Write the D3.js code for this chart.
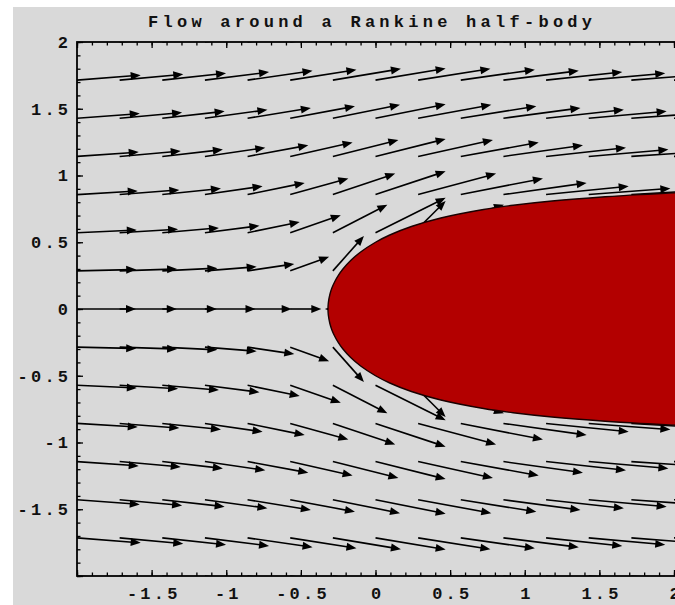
<!DOCTYPE html>
<html>
<head>
<meta charset="utf-8">
<script src="https://cdn.jsdelivr.net/npm/d3@7"></script>
<style>
  body { margin: 0; background: #ffffff; }
  text { font-family: "Liberation Mono", "DejaVu Sans Mono", monospace; font-weight: bold; fill: #111; }
</style>
</head>
<body>
<div id="chart"></div>
<script>
width = 675
height = 605

const title = "Flow around a Rankine half-body";
const xTicks = [-1.5, -1, -0.5, 0, 0.5, 1, 1.5, 2];
const yTicks = [-1.5, -1, -0.5, 0, 0.5, 1, 1.5, 2];

// 15 x 15 grid of velocity arrows; the rows below y = 0 are the mirror of these
const xGrid = [-2, -1.7143, -1.4286, -1.1429, -0.8571, -0.5714, -0.2857, 0,
               0.2857, 0.5714, 0.8571, 1.1429, 1.4286, 1.7143, 2];
const yGrid = [0, 0.2857, 0.5714, 0.8571, 1.1429, 1.4286, 1.7143, 2];

// horizontal velocity, one row per yGrid value (null = source point)
const uRows = [
  [0.841, 0.814, 0.777, 0.721, 0.629, 0.443, -0.114, null, 2.114, 1.557, 1.371, 1.279, 1.223, 1.186, 1.159],
  [0.844, 0.819, 0.786, 0.738, 0.666, 0.554, 0.443, 1.000, 1.557, 1.446, 1.334, 1.262, 1.214, 1.181, 1.156],
  [0.853, 0.833, 0.808, 0.777, 0.743, 0.721, 0.777, 1.000, 1.223, 1.279, 1.257, 1.223, 1.192, 1.167, 1.147],
  [0.866, 0.851, 0.836, 0.822, 0.814, 0.829, 0.889, 1.000, 1.111, 1.171, 1.186, 1.178, 1.164, 1.149, 1.134],
  [0.880, 0.871, 0.864, 0.861, 0.866, 0.889, 0.934, 1.000, 1.066, 1.111, 1.134, 1.139, 1.136, 1.129, 1.120],
  [0.895, 0.890, 0.889, 0.891, 0.902, 0.923, 0.957, 1.000, 1.043, 1.077, 1.098, 1.109, 1.111, 1.110, 1.105],
  [0.908, 0.907, 0.909, 0.914, 0.926, 0.944, 0.970, 1.000, 1.030, 1.056, 1.074, 1.086, 1.091, 1.093, 1.092],
  [0.920, 0.921, 0.925, 0.931, 0.942, 0.958, 0.978, 1.000, 1.022, 1.042, 1.058, 1.069, 1.075, 1.079, 1.080]
];
// vertical velocity, same layout
const vRows = [
  [0, 0, 0, 0, 0, 0, 0, null, 0, 0, 0, 0, 0, 0, 0],
  [0.022, 0.030, 0.043, 0.066, 0.111, 0.223, 0.557, 1.114, 0.557, 0.223, 0.111, 0.066, 0.043, 0.030, 0.022],
  [0.042, 0.056, 0.077, 0.111, 0.171, 0.279, 0.446, 0.557, 0.446, 0.279, 0.171, 0.111, 0.077, 0.056, 0.042],
  [0.058, 0.074, 0.098, 0.134, 0.186, 0.257, 0.334, 0.371, 0.334, 0.257, 0.186, 0.134, 0.098, 0.074, 0.058],
  [0.069, 0.086, 0.109, 0.139, 0.178, 0.223, 0.262, 0.279, 0.262, 0.223, 0.178, 0.139, 0.109, 0.086, 0.069],
  [0.075, 0.091, 0.111, 0.136, 0.164, 0.192, 0.214, 0.223, 0.214, 0.192, 0.164, 0.136, 0.111, 0.091, 0.075],
  [0.079, 0.093, 0.110, 0.129, 0.149, 0.167, 0.181, 0.186, 0.181, 0.167, 0.149, 0.129, 0.110, 0.093, 0.079],
  [0.080, 0.092, 0.105, 0.120, 0.134, 0.147, 0.156, 0.159, 0.156, 0.147, 0.134, 0.120, 0.105, 0.092, 0.080]
];

// upper outline of the half-body, from the nose downstream
const bodyX = [-0.3183, -0.3162, -0.3058, -0.2923, -0.2733, -0.2489, -0.2182, -0.1663, -0.0996, 0,
               0.0956, 0.2403, 0.4377, 0.7239, 0.9227, 1.1826, 1.5392, 1.7735, 2.0006, 2.2010];
const bodyY = [0, 0.0451, 0.1087, 0.1565, 0.2042, 0.2520, 0.2997, 0.3634, 0.4270, 0.5,
               0.5544, 0.6180, 0.6817, 0.7454, 0.7772, 0.8090, 0.8408, 0.8568, 0.8695, 0.8790];

const arrowScale = 0.47;   // data units per unit of speed

const svg = d3.select("#chart")
    .append("svg")
    .attr("width", width)
    .attr("height", height);

// gray page
svg.append("rect")
    .attr("x", 13).attr("y", 7)
    .attr("width", width - 13).attr("height", height - 7)
    .attr("fill", "#d9d9d9");

var x = d3.scaleLinear().domain([-2, 2]).range([77, 674]);
var y = d3.scaleLinear().domain([-2, 2]).range([576, 42]);

svg.append("clipPath").attr("id", "plot-clip")
    .append("rect")
    .attr("x", x(-2)).attr("y", y(2))
    .attr("width", 700).attr("height", y(-2) - y(2));

const plot = svg.append("g").attr("clip-path", "url(#plot-clip)");

// build arrow list (mirror upper rows to the lower half)
var arrows = [];
yGrid.forEach((yy, j) => {
    const signs = j === 0 ? [1] : [1, -1];
    signs.forEach(sg => {
        xGrid.forEach((xx, i) => {
            if (uRows[j][i] === null) return;
            arrows.push({ x: xx, y: sg * yy, u: uRows[j][i], v: sg * vRows[j][i] });
        });
    });
});

const headLen = 10, headHalf = 4;
arrows.forEach(a => {
    const x0 = x(a.x), y0 = y(a.y);
    const x1 = x(a.x + arrowScale * a.u), y1 = y(a.y + arrowScale * a.v);
    const ang = Math.atan2(y1 - y0, x1 - x0);
    const c = Math.cos(ang), s = Math.sin(ang);
    plot.append("line")
        .attr("x1", x0).attr("y1", y0)
        .attr("x2", x1 - c * headLen * 0.5).attr("y2", y1 - s * headLen * 0.5)
        .attr("stroke", "#000")
        .attr("stroke-width", 1.6);
    const bx = x1 - c * headLen, by = y1 - s * headLen;
    plot.append("path")
        .attr("d", "M" + x1 + "," + y1 +
            "L" + (bx - s * headHalf) + "," + (by + c * headHalf) +
            "L" + (bx + s * headHalf) + "," + (by - c * headHalf) + "Z")
        .attr("fill", "#000");
});

// the half-body: upper outline back to the nose, then the mirrored lower outline
var outline = [];
for (let i = bodyX.length - 1; i >= 0; i--) outline.push([bodyX[i], bodyY[i]]);
for (let i = 1; i < bodyX.length; i++) outline.push([bodyX[i], -bodyY[i]]);

plot.append("path")
    .attr("d", d3.line().x(d => x(d[0])).y(d => y(d[1])).curve(d3.curveCatmullRom)(outline) + "Z")
    .attr("fill", "#b30000")
    .attr("stroke", "#1a0000")
    .attr("stroke-width", 1.4);

// frame ticks (inward), minor every 0.1
const minor = d3.range(-20, 21).map(d => d / 10);
const major = [-2, -1.5, -1, -0.5, 0, 0.5, 1, 1.5, 2];

function tickAxes(axisFn, scale, pos, transform) {
    svg.append("g").attr("transform", transform)
        .call(axisFn(scale).tickValues(minor).tickFormat("").tickSizeInner(pos * 3.5).tickSizeOuter(0))
        .call(g => g.select(".domain").remove());
    svg.append("g").attr("transform", transform)
        .call(axisFn(scale).tickValues(major).tickFormat("").tickSizeInner(pos * 6).tickSizeOuter(0))
        .call(g => g.select(".domain").remove());
}
tickAxes(d3.axisBottom, x, -1, "translate(0," + y(-2) + ")");
tickAxes(d3.axisTop, x, -1, "translate(0," + y(2) + ")");
tickAxes(d3.axisLeft, y, -1, "translate(" + x(-2) + ",0)");
svg.selectAll(".tick line").attr("stroke", "#000").attr("stroke-width", 1.3);

// labels
const ls = 3.2;
svg.append("g")
    .attr("transform", "translate(0," + y(-2) + ")")
    .call(d3.axisBottom(x).tickValues(xTicks).tickFormat(d => d).tickSize(0).tickPadding(11))
    .call(g => g.select(".domain").remove())
    .selectAll("text")
    .attr("dx", ls / 2)
    .style("font-size", "17px")
    .style("letter-spacing", ls + "px")
    .style("font-family", '"Liberation Mono", monospace')
    .attr("fill", "#111");

svg.append("g")
    .attr("transform", "translate(" + x(-2) + ",0)")
    .call(d3.axisLeft(y).tickValues(yTicks).tickFormat(d => d).tickSize(0).tickPadding(9))
    .call(g => g.select(".domain").remove())
    .selectAll("text")
    .attr("dx", ls)
    .style("font-size", "17px")
    .style("letter-spacing", ls + "px")
    .style("font-family", '"Liberation Mono", monospace')
    .attr("fill", "#111");

// frame
svg.append("rect")
    .attr("x", x(-2)).attr("y", y(2))
    .attr("width", 700).attr("height", y(-2) - y(2))
    .attr("fill", "none")
    .attr("stroke", "#000")
    .attr("stroke-width", 1.8);

svg.append("text")
    .attr("x", 148)
    .attr("y", 27)
    .attr("textLength", 444)
    .attr("lengthAdjust", "spacing")
    .style("font-size", "17px")
    .text(title);
</script>
</body>
</html>
